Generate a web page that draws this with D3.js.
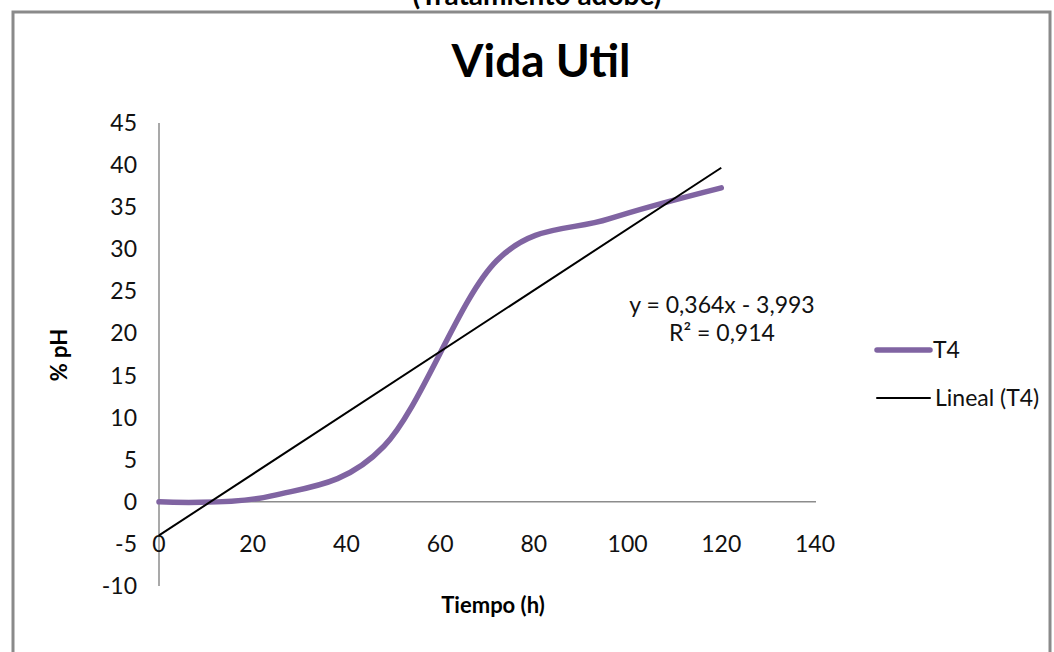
<!DOCTYPE html>
<html>
<head>
<meta charset="utf-8">
<script src="https://cdn.jsdelivr.net/npm/d3@7"></script>
<style>
  html, body { margin: 0; padding: 0; background: #fff; }
  text { font-family: Lato, "Open Sans", sans-serif; }
</style>
</head>
<body>
<div id="chart"></div>
<script>
// data
var hours = [0, 24, 48, 72, 96, 120];
var t4 = [0, 0.7, 6.6, 28.6, 33.6, 37.3];
var yTicks = [45, 40, 35, 30, 25, 20, 15, 10, 5, 0, -5, -10];
var xTicks = [0, 20, 40, 60, 80, 100, 120, 140];
// linear trend shown on the chart
var trendSlope = 0.364;
var trendIntercept = -3.993;
var trendLabel = ["y = 0,364x - 3,993", "R² = 0,914"];

var width = 1054, height = 652;

var svg = d3.select("#chart")
    .append("svg")
    .attr("width", width)
    .attr("height", height);

// heading above the frame, cut off by the top edge as in the original
svg.append("text")
    .attr("x", 537)
    .attr("y", 5)
    .attr("text-anchor", "middle")
    .attr("font-size", "28px")
    .attr("font-weight", "bold")
    .text("(Tratamiento adobe)");

// chart frame
svg.append("rect")
    .attr("x", 13)
    .attr("y", 12)
    .attr("width", 1037)
    .attr("height", 700)
    .attr("fill", "none")
    .attr("stroke", "#8a8a8a")
    .attr("stroke-width", 3);

svg.append("text")
    .attr("x", 541)
    .attr("y", 77)
    .attr("text-anchor", "middle")
    .attr("font-size", "46px")
    .attr("font-weight", "bold")
    .text("Vida Util");

var x = d3.scaleLinear().domain([0, 140]).range([159, 815]);
var y = d3.scaleLinear().domain([-10, 45]).range([586, 123]);

// axes
svg.append("line")
    .attr("x1", x(0)).attr("x2", x(0))
    .attr("y1", y(45)).attr("y2", y(-10))
    .attr("stroke", "#8c8c8c")
    .attr("stroke-width", 1.5);

svg.append("line")
    .attr("x1", x(0)).attr("x2", x(140) + 1)
    .attr("y1", y(0)).attr("y2", y(0))
    .attr("stroke", "#8c8c8c")
    .attr("stroke-width", 1.5);

svg.selectAll(".ytick")
    .data(yTicks)
    .join("text")
    .attr("class", "ytick")
    .attr("x", 137)
    .attr("y", function (d) { return y(d) + 8; })
    .attr("text-anchor", "end")
    .attr("font-size", "23px")
    .attr("fill", "#111")
    .text(function (d) { return d; });

svg.selectAll(".xtick")
    .data(xTicks)
    .join("text")
    .attr("class", "xtick")
    .attr("x", function (d) { return x(d); })
    .attr("y", y(-5) + 8)
    .attr("text-anchor", "middle")
    .attr("font-size", "23px")
    .attr("fill", "#111")
    .text(function (d) { return d; });

// axis titles
svg.append("text")
    .attr("x", 493)
    .attr("y", 613)
    .attr("text-anchor", "middle")
    .attr("font-size", "22px")
    .attr("font-weight", "bold")
    .text("Tiempo (h)");

svg.append("text")
    .attr("transform", "translate(67,355) rotate(-90)")
    .attr("text-anchor", "middle")
    .attr("font-size", "22px")
    .attr("font-weight", "bold")
    .text("% pH");

// T4 series, smoothed
var points = hours.map(function (h, i) { return [h, t4[i]]; });
var line = d3.line()
    .x(function (d) { return x(d[0]); })
    .y(function (d) { return y(d[1]); })
    .curve(d3.curveCardinal.tension(0));

svg.append("path")
    .datum(points)
    .attr("d", line)
    .attr("fill", "none")
    .attr("stroke", "#8064a2")
    .attr("stroke-width", 5.5)
    .attr("stroke-linecap", "round");

// linear trend
var x0 = hours[0], x1 = hours[hours.length - 1];
svg.append("line")
    .attr("x1", x(x0)).attr("y1", y(trendSlope * x0 + trendIntercept))
    .attr("x2", x(x1)).attr("y2", y(trendSlope * x1 + trendIntercept))
    .attr("stroke", "#000")
    .attr("stroke-width", 2);

svg.selectAll(".eq")
    .data(trendLabel)
    .join("text")
    .attr("class", "eq")
    .attr("x", 722)
    .attr("y", function (d, i) { return 313 + i * 28; })
    .attr("text-anchor", "middle")
    .attr("font-size", "23px")
    .attr("fill", "#111")
    .text(function (d) { return d; });

// legend
var legend = [
    {name: "T4", color: "#8064a2", w: 5.5, y: 350, tx: 933},
    {name: "Lineal (T4)", color: "#000", w: 2, y: 398, tx: 935}
];
var lg = svg.selectAll(".legend")
    .data(legend)
    .join("g")
    .attr("class", "legend");
lg.append("line")
    .attr("x1", 877).attr("x2", 930)
    .attr("y1", function (d) { return d.y; })
    .attr("y2", function (d) { return d.y; })
    .attr("stroke", function (d) { return d.color; })
    .attr("stroke-width", function (d) { return d.w; })
    .attr("stroke-linecap", "round");
lg.append("text")
    .attr("x", function (d) { return d.tx; })
    .attr("y", function (d) { return d.y + 8; })
    .attr("font-size", "23px")
    .attr("fill", "#111")
    .text(function (d) { return d.name; });
</script>
</body>
</html>
